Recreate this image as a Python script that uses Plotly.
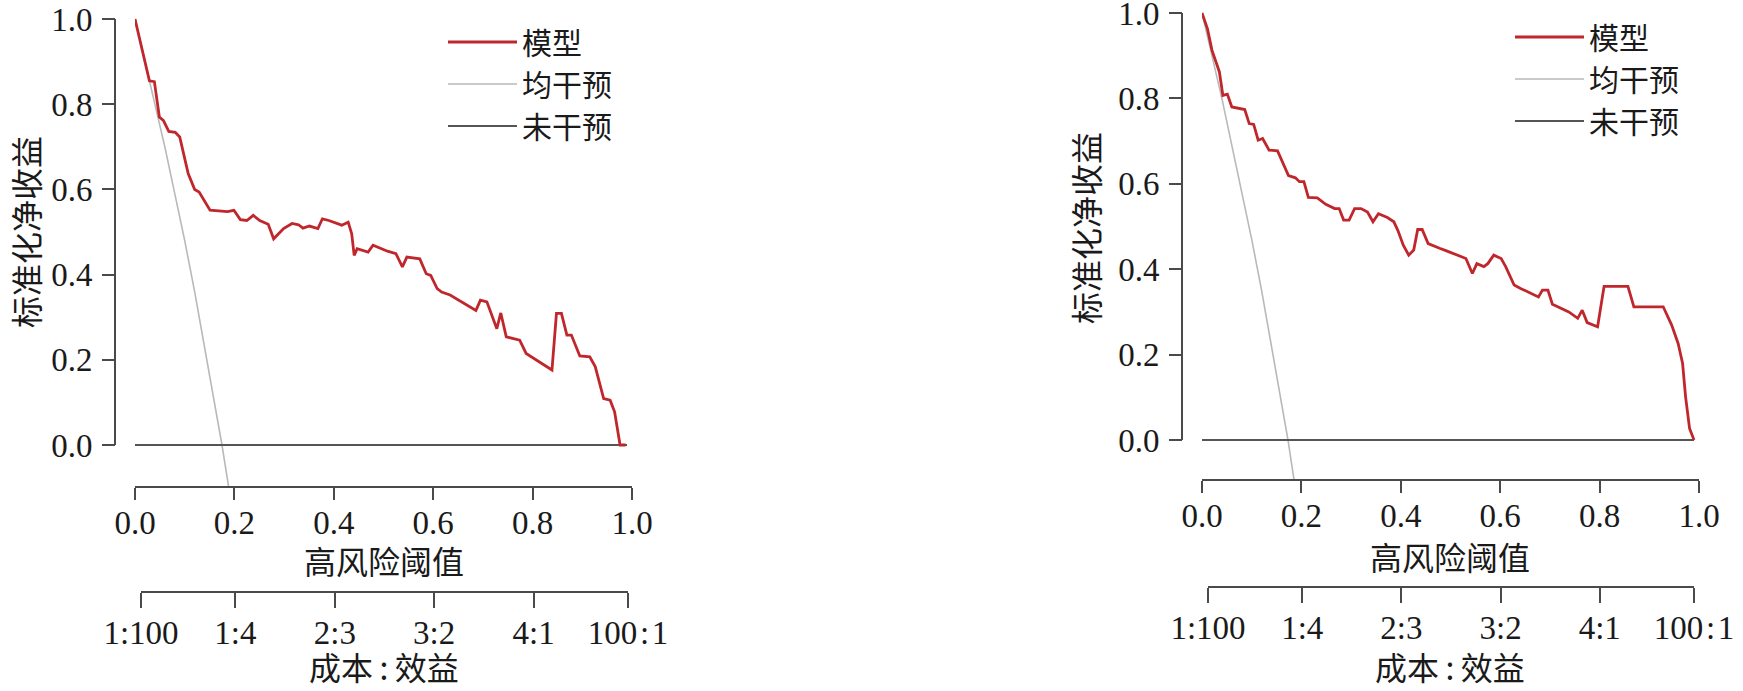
import plotly.graph_objects as go

W, H = 1743, 691

# ---------------- data ----------------
left_thr = [0.0, 0.029, 0.039, 0.049, 0.057, 0.068, 0.081, 0.09, 0.107, 0.12, 0.129, 0.151,
            0.186, 0.199, 0.212, 0.225, 0.238, 0.251, 0.268, 0.279, 0.299, 0.316, 0.329,
            0.338, 0.351, 0.368, 0.377, 0.39, 0.416, 0.429, 0.436, 0.441, 0.447, 0.46,
            0.469, 0.479, 0.495, 0.508, 0.525, 0.538, 0.547, 0.573, 0.586, 0.595, 0.608,
            0.617, 0.634, 0.652, 0.669, 0.686, 0.695, 0.708, 0.728, 0.736, 0.747, 0.76,
            0.774, 0.787, 0.808, 0.826, 0.839, 0.848, 0.858, 0.869, 0.878, 0.895, 0.915,
            0.926, 0.943, 0.956, 0.965, 0.976, 0.987]
left_model = [1.0, 0.855, 0.853, 0.77, 0.762, 0.736, 0.734, 0.723, 0.637, 0.60, 0.594, 0.551,
              0.548, 0.551, 0.529, 0.527, 0.539, 0.527, 0.518, 0.484, 0.508, 0.52, 0.517,
              0.509, 0.514, 0.508, 0.531, 0.527, 0.516, 0.523, 0.496, 0.445, 0.461, 0.457,
              0.453, 0.469, 0.461, 0.455, 0.449, 0.418, 0.441, 0.437, 0.402, 0.398, 0.367,
              0.359, 0.352, 0.34, 0.328, 0.316, 0.34, 0.336, 0.273, 0.31, 0.254, 0.25,
              0.246, 0.215, 0.199, 0.187, 0.176, 0.309, 0.309, 0.258, 0.258, 0.209, 0.207,
              0.184, 0.109, 0.105, 0.078, 0.0, 0.0]
left_all_thr = [0.0, 0.02, 0.04, 0.06, 0.08, 0.10, 0.12, 0.14, 0.16, 0.175, 0.19]
left_all = [1.0, 0.90, 0.80, 0.70, 0.59, 0.48, 0.36, 0.23, 0.10, 0.0, -0.11]
left_none_thr = [0.0, 0.99]
left_none = [0.0, 0.0]

right_thr = [0.0, 0.011, 0.020, 0.029, 0.035, 0.042, 0.051, 0.06, 0.078, 0.086, 0.095, 0.104,
             0.113, 0.122, 0.135, 0.152, 0.174, 0.188, 0.196, 0.205, 0.214, 0.232, 0.249,
             0.267, 0.276, 0.285, 0.296, 0.307, 0.32, 0.333, 0.344, 0.355, 0.373, 0.386,
             0.394, 0.405, 0.416, 0.426, 0.434, 0.443, 0.455, 0.465, 0.478, 0.492, 0.505,
             0.518, 0.531, 0.544, 0.553, 0.567, 0.575, 0.587, 0.602, 0.611, 0.628, 0.641,
             0.655, 0.677, 0.685, 0.696, 0.705, 0.721, 0.738, 0.756, 0.765, 0.775, 0.796,
             0.809, 0.857, 0.869, 0.928, 0.945, 0.958, 0.967, 0.973, 0.981, 0.99]
right_model = [1.0, 0.963, 0.913, 0.885, 0.862, 0.807, 0.81, 0.78, 0.776, 0.774, 0.741, 0.739,
               0.702, 0.706, 0.679, 0.677, 0.619, 0.614, 0.605, 0.605, 0.568, 0.567, 0.552,
               0.542, 0.542, 0.515, 0.515, 0.542, 0.542, 0.534, 0.511, 0.53, 0.521, 0.511,
               0.491, 0.456, 0.433, 0.445, 0.493, 0.493, 0.46, 0.456, 0.449, 0.443, 0.437,
               0.431, 0.425, 0.39, 0.413, 0.406, 0.413, 0.433, 0.425, 0.406, 0.363, 0.355,
               0.347, 0.335, 0.351, 0.351, 0.318, 0.31, 0.30, 0.285, 0.304, 0.275, 0.265,
               0.36, 0.36, 0.312, 0.312, 0.269, 0.226, 0.179, 0.101, 0.027, 0.0]
right_all_thr = [0.0, 0.02, 0.04, 0.06, 0.08, 0.10, 0.12, 0.14, 0.16, 0.173, 0.19]
right_all = [1.0, 0.90, 0.80, 0.69, 0.58, 0.47, 0.35, 0.22, 0.09, 0.0, -0.13]
right_none_thr = [0.0, 0.99]
right_none = [0.0, 0.0]

x_ticks = [0.0, 0.2, 0.4, 0.6, 0.8, 1.0]
x_tick_text = ["0.0", "0.2", "0.4", "0.6", "0.8", "1.0"]
cb_ticks = [1 / 101, 0.2, 0.4, 0.6, 0.8, 100 / 101]
cb_tick_text = ["1:100", "1:4", "2:3", "3:2", "4:1", "100\u200a:\u200a1"]
y_ticks = [0.0, 0.2, 0.4, 0.6, 0.8, 1.0]
y_tick_text = ["0.0", "0.2", "0.4", "0.6", "0.8", "1.0"]

names = ["模型", "均干预", "未干预"]
x_title = "高风险阈值"
cb_title = "成本\u2009:\u2009效益"
y_title = "标准化净收益"

# ---------------- styling ----------------
RED = "#c0272d"
LGRAY = "#b9b9b9"
DGRAY = "#555555"
AX = "#4a4a4a"
TXT = "#1a1a1a"
FONT = "Liberation Serif, Noto Sans CJK SC, serif"
CJK = "Noto Sans CJK SC, sans-serif"

fig = go.Figure()

def add_panel(xa, ya, leg, thr, model, all_thr, all_v, none_thr, none_v):
    fig.add_trace(go.Scatter(x=all_thr, y=all_v, mode="lines", name=names[1],
                             line=dict(color=LGRAY, width=1.6), xaxis=xa, yaxis=ya,
                             legend=leg, legendrank=2))
    fig.add_trace(go.Scatter(x=none_thr, y=none_v, mode="lines", name=names[2],
                             line=dict(color=DGRAY, width=2), xaxis=xa, yaxis=ya,
                             legend=leg, legendrank=3))
    fig.add_trace(go.Scatter(x=thr, y=model, mode="lines", name=names[0],
                             line=dict(color=RED, width=2.8), xaxis=xa, yaxis=ya,
                             legend=leg, legendrank=1))

add_panel("x", "y", "legend", left_thr, left_model, left_all_thr, left_all,
          left_none_thr, left_none)
add_panel("x2", "y2", "legend2", right_thr, right_model, right_all_thr, right_all,
          right_none_thr, right_none)
# empty traces so that the cost:benefit axes form subplots
fig.add_trace(go.Scatter(x=[], y=[], xaxis="x3", yaxis="y", showlegend=False))
fig.add_trace(go.Scatter(x=[], y=[], xaxis="x4", yaxis="y2", showlegend=False))

def px(v):
    return v / W

def py(v):
    return (H - v) / H

tick_font = dict(family=FONT, size=33, color=TXT)

def xax(domain, rng, vals, text, anchor, position=None, ticklen=12, standoff=-6):
    d = dict(domain=domain, range=rng, tickmode="array", tickvals=vals, ticktext=text,
             showline=True, linecolor=AX, linewidth=2, ticks="outside", ticklen=ticklen,
             tickwidth=2, tickcolor=AX, showgrid=False, zeroline=False,
             tickfont=tick_font, fixedrange=True, ticklabelstandoff=standoff,
             ticklabeloverflow="allow", automargin=False)
    if position is None:
        d["anchor"] = anchor
    else:
        d["anchor"] = "free"
        d["position"] = position
    return d

def yax(domain, rng, position):
    return dict(domain=domain, range=rng, anchor="free", position=position,
                tickmode="array", tickvals=y_ticks, ticktext=y_tick_text,
                showline=False, ticks="outside", ticklen=13, tickwidth=2, tickcolor=AX,
                showgrid=False, zeroline=False, tickfont=tick_font, fixedrange=True,
                ticklabelstandoff=3, ticklabeloverflow="allow", automargin=False)

# left panel geometry (pixels): x 0->135, 1->632 ; y 0->445, 1->19 ; x-axis at 486
L_y0, L_y1 = 445, 19
L_unit = L_y0 - L_y1
L_lo, L_hi = -(486 - L_y0) / L_unit, 1.03
# right panel geometry: x 0->1202, 1->1699 ; y 0->440, 1->13 ; x-axis at 479
R_y0, R_y1 = 440, 13
R_unit = R_y0 - R_y1
R_lo, R_hi = -(479 - R_y0) / R_unit, 1.025

fig.update_layout(
    width=W, height=H, autosize=False,
    margin=dict(l=0, r=0, t=0, b=0, pad=0, autoexpand=False),
    paper_bgcolor="white", plot_bgcolor="rgba(0,0,0,0)",
    font=dict(family=FONT, color=TXT),
    xaxis=xax([px(135), px(632)], [0, 1], x_ticks, x_tick_text, "y"),
    yaxis=yax([py(486), py(L_y0 - L_hi * L_unit)], [L_lo, L_hi], px(115)),
    xaxis3=xax([px(141), px(628)], [cb_ticks[0], cb_ticks[-1]], cb_ticks, cb_tick_text,
               None, py(592), ticklen=15, standoff=-4),
    xaxis2=xax([px(1202), px(1699)], [0, 1], x_ticks, x_tick_text, "y2"),
    yaxis2=yax([py(479), py(R_y0 - R_hi * R_unit)], [R_lo, R_hi], px(1182)),
    xaxis4=xax([px(1208), px(1694)], [cb_ticks[0], cb_ticks[-1]], cb_ticks, cb_tick_text,
               None, py(587), ticklen=15, standoff=-4),
    legend=dict(x=px(443), y=py(16), xanchor="left", yanchor="top",
                font=dict(family=CJK, size=30, color=TXT), bgcolor="rgba(0,0,0,0)",
                tracegroupgap=0, itemwidth=69),
    legend2=dict(x=px(1510), y=py(11), xanchor="left", yanchor="top",
                 font=dict(family=CJK, size=30, color=TXT), bgcolor="rgba(0,0,0,0)",
                 tracegroupgap=0, itemwidth=69),
    showlegend=True,
)

# y-axis lines spanning 0..1 only (base-R style)
fig.add_shape(type="line", xref="paper", yref="y", x0=px(115), x1=px(115), y0=0, y1=1,
              line=dict(color=AX, width=2))
fig.add_shape(type="line", xref="paper", yref="y2", x0=px(1182), x1=px(1182), y0=0, y1=1,
              line=dict(color=AX, width=2))

title_font = dict(family=CJK, size=32, color=TXT)
ann = [
    (px(384), py(560), x_title, 0, "middle"),
    (px(384), 0.0, cb_title, 0, "bottom"),
    (px(25), py(232), y_title, -90, "middle"),
    (px(1450), py(556), x_title, 0, "middle"),
    (px(1450), 0.0, cb_title, 0, "bottom"),
    (px(1085), py(228), y_title, -90, "middle"),
]
for x, y, t, ang, ya in ann:
    fig.add_annotation(x=x, y=y, xref="paper", yref="paper", text=t, showarrow=False,
                       textangle=ang, font=title_font, xanchor="center", yanchor=ya)

fig.write_html("out.html", config={"displayModeBar": False, "responsive": False},
               post_script="document.body.style.margin='0';")
